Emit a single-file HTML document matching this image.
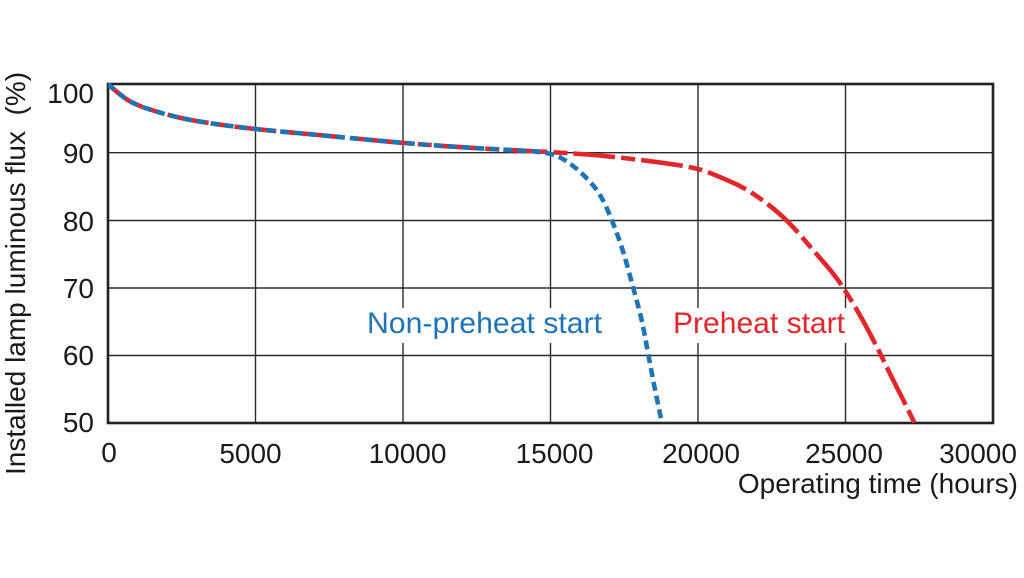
<!DOCTYPE html>
<html>
<head>
<meta charset="utf-8">
<style>
  html, body { margin: 0; padding: 0; background: #ffffff; }
  svg { display: block; }
  text { font-family: "Liberation Sans", Arial, sans-serif; }
</style>
</head>
<body>
<svg width="1024" height="578" viewBox="0 0 1024 578" xmlns="http://www.w3.org/2000/svg">
  <rect x="0" y="0" width="1024" height="578" fill="#ffffff"/>
  <defs>
    <clipPath id="plot">
      <rect x="108" y="80" width="885" height="343"/>
    </clipPath>
  </defs>

  <!-- grid -->
  <g stroke="#2a2a2a" stroke-width="1.4" fill="none">
    <line x1="108" y1="152.7" x2="993" y2="152.7"/>
    <line x1="108" y1="220.5" x2="993" y2="220.5"/>
    <line x1="108" y1="288" x2="993" y2="288"/>
    <line x1="108" y1="355.5" x2="993" y2="355.5"/>
    <line x1="255.5" y1="84" x2="255.5" y2="423"/>
    <line x1="403" y1="84" x2="403" y2="423"/>
    <line x1="550.5" y1="84" x2="550.5" y2="423"/>
    <line x1="698" y1="84" x2="698" y2="423"/>
    <line x1="845.5" y1="84" x2="845.5" y2="423"/>
  </g>

  <!-- label backgrounds -->
  <rect x="362" y="308" width="245" height="35" fill="#ffffff"/>
  <rect x="668" y="308" width="182" height="35" fill="#ffffff"/>

  <!-- frame -->
  <rect x="108" y="84" width="885" height="339" fill="none" stroke="#222" stroke-width="2.6"/>

  <!-- curves -->
  <g clip-path="url(#plot)" fill="none" stroke-linecap="butt" stroke-linejoin="round">
    <path stroke="#e2262a" stroke-width="4.6" stroke-dasharray="42 6 14 6"
      d="M108,84 L113,88.5 Q118,93 125.5,98.5 Q133,104 150,109.5 Q167,115 183.5,118.5 Q200,122 226.5,125.5 Q253,129 275,131 Q297,133 323.5,135.5 Q350,138 376.5,140.5 Q403,143 426.5,144.75 Q450,146.5 470,147.75 Q490,149 520,150.5 Q550,152 573.5,153.5 Q597,155 623.5,158 Q650,161 674,164.5 Q698,168 709,172.5 Q720,177 731.5,182 Q743,187 755,195 Q767,203 778.5,213 Q790,223 801.5,236.5 Q813,250 823,261.5 Q833,273 839,281.5 Q845,290 854,305 Q863,320 871.5,336.5 Q880,353 886.5,366.5 Q893,380 904,401.5 L917,428"/>
    <path stroke="#1f74b8" stroke-width="4.6" stroke-dasharray="9 5"
      d="M108,84 L113,88.5 Q118,93 125.5,98.5 Q133,104 150,109.5 Q167,115 183.5,118.5 Q200,122 226.5,125.5 Q253,129 275,131 Q297,133 323.5,135.5 Q350,138 376.5,140.5 Q403,143 426.5,144.75 Q450,146.5 470,147.75 Q490,149 520,150.5 Q550,152 558.5,156.5 Q567,161 575,167.5 Q583,174 591.5,183.5 Q600,193 606,206.5 Q612,220 617.5,235 Q623,250 628,268.5 Q633,287 637.5,303.5 Q642,320 645,336.5 Q648,353 651.5,371.5 Q655,390 658.5,406.5 L663,428"/>
  </g>

  <!-- series labels -->
  <text x="367" y="333" font-size="30" fill="#1f74b8" textLength="235" lengthAdjust="spacingAndGlyphs">Non-preheat start</text>
  <text x="673" y="333" font-size="30" fill="#e2262a" textLength="172" lengthAdjust="spacingAndGlyphs">Preheat start</text>

  <!-- y tick labels -->
  <g font-size="28" fill="#1a1a1a" text-anchor="end">
    <text x="94" y="103">100</text>
    <text x="94" y="163">90</text>
    <text x="94" y="231">80</text>
    <text x="94" y="298">70</text>
    <text x="94" y="365">60</text>
    <text x="94" y="432">50</text>
  </g>

  <!-- x tick labels -->
  <g font-size="28" fill="#1a1a1a" text-anchor="middle">
    <text x="109" y="462">0</text>
    <text x="250.5" y="463">5000</text>
    <text x="407.5" y="463">10000</text>
    <text x="554.5" y="463">15000</text>
    <text x="701" y="463">20000</text>
    <text x="844" y="463">25000</text>
    <text x="978" y="463">30000</text>
  </g>

  <!-- axis titles -->
  <text x="1018" y="493" font-size="28" fill="#1a1a1a" text-anchor="end">Operating time (hours)</text>
  <text x="25" y="475" font-size="28" fill="#1a1a1a" transform="rotate(-90 25 475)" xml:space="preserve">Installed lamp luminous flux  (%)</text>
</svg>
</body>
</html>
